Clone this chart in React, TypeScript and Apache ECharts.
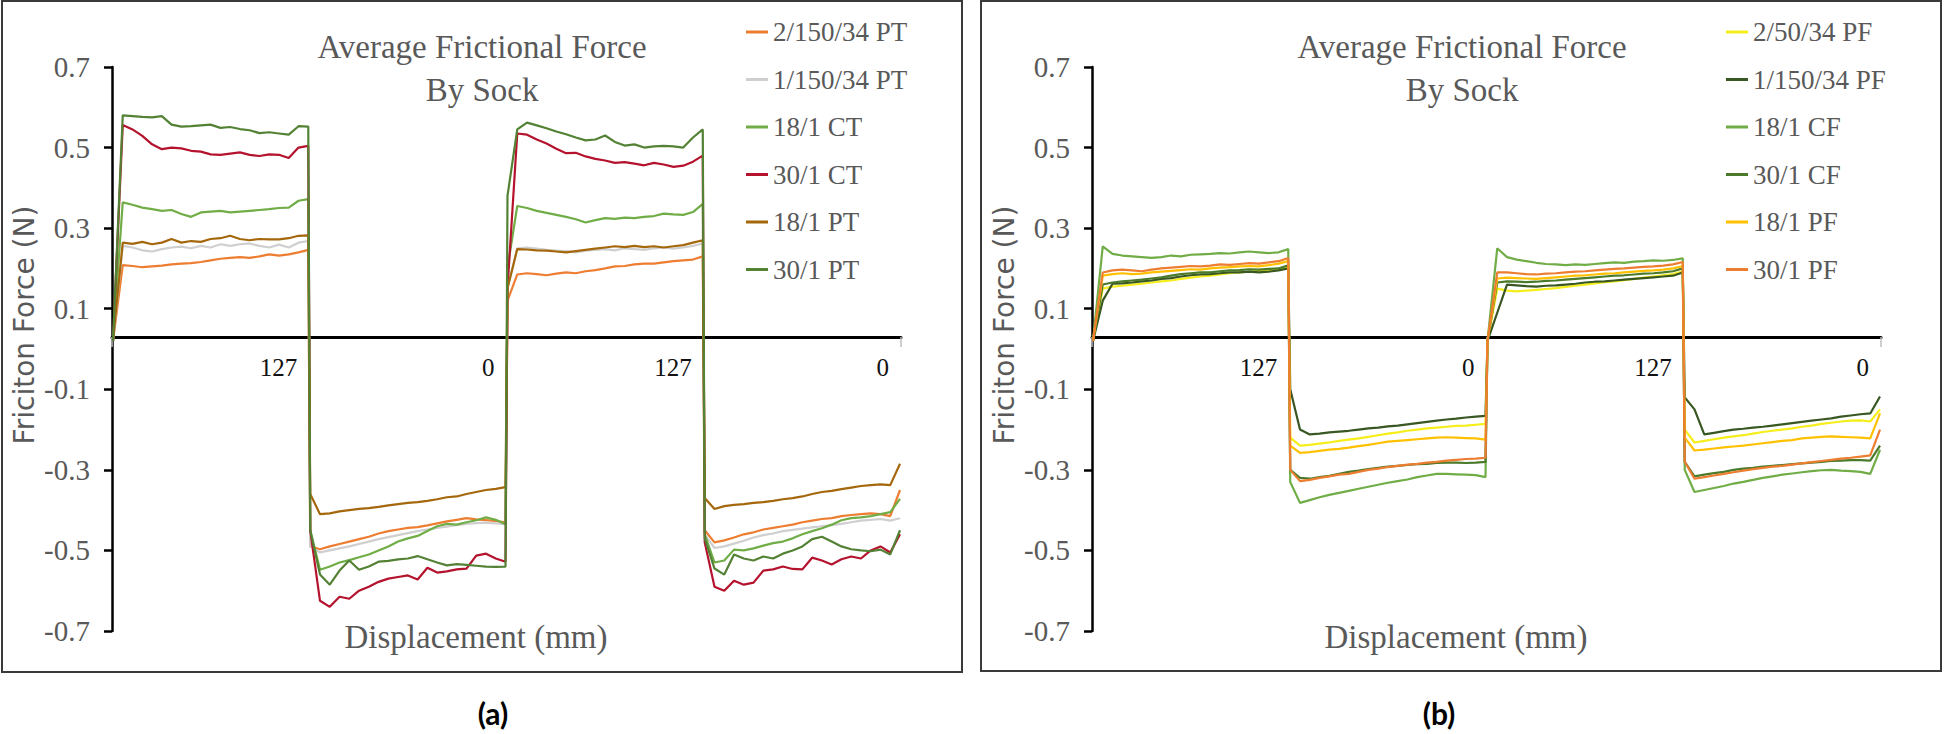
import React, { useEffect, useRef } from "react";
import * as echarts from "echarts";

const SERIF = '"Liberation Serif", "Times New Roman", serif';
const SANS = '"DejaVu Sans", sans-serif';

// Tick labels
const xTickLabels = ["", "127", "0", "127", "0"];
const yTickLabels = ["-0.7", "-0.5", "-0.3", "-0.1", "0.1", "0.3", "0.5", "0.7"];
// value of the force axis where the displacement axis is drawn
const xAxisCrossing = 0.03;

// ---------- Panel (a) : each series = [push 1, pull 1, push 2, pull 2] ----------
const a_2_150_34_PT = [
  [0.02, 0.208, 0.206, 0.203, 0.205, 0.207, 0.21, 0.212, 0.213, 0.216, 0.22, 0.224, 0.226, 0.228, 0.226, 0.23, 0.235, 0.232, 0.235, 0.24, 0.246],
  [-0.49, -0.497, -0.49, -0.484, -0.478, -0.472, -0.466, -0.458, -0.452, -0.448, -0.444, -0.442, -0.438, -0.433, -0.428, -0.424, -0.42, -0.423, -0.425, -0.427, -0.43],
  [0.12, 0.185, 0.188, 0.186, 0.183, 0.187, 0.19, 0.188, 0.193, 0.196, 0.2, 0.205, 0.206, 0.21, 0.212, 0.212, 0.215, 0.218, 0.22, 0.222, 0.23],
  [-0.45, -0.48, -0.475, -0.468, -0.46, -0.455, -0.448, -0.444, -0.44, -0.436, -0.43, -0.426, -0.422, -0.42, -0.415, -0.412, -0.41, -0.408, -0.41, -0.415, -0.35],
];
const a_1_150_34_PT = [
  [0.02, 0.256, 0.252, 0.245, 0.242, 0.248, 0.252, 0.254, 0.25, 0.256, 0.252, 0.26, 0.256, 0.26, 0.262, 0.256, 0.252, 0.259, 0.252, 0.264, 0.268],
  [-0.49, -0.505, -0.5, -0.495, -0.49, -0.484, -0.478, -0.472, -0.467, -0.462, -0.457, -0.452, -0.448, -0.444, -0.441, -0.437, -0.434, -0.432, -0.431, -0.433, -0.435],
  [0.15, 0.25, 0.252, 0.249, 0.246, 0.244, 0.243, 0.24, 0.244, 0.246, 0.248, 0.245, 0.25, 0.248, 0.246, 0.25, 0.252, 0.249, 0.252, 0.256, 0.262],
  [-0.46, -0.494, -0.49, -0.483, -0.476, -0.468, -0.462, -0.458, -0.452, -0.449, -0.446, -0.443, -0.44, -0.437, -0.434, -0.43, -0.426, -0.424, -0.422, -0.426, -0.42],
];
const a_18_1_CT = [
  [0.02, 0.364, 0.358, 0.351, 0.347, 0.343, 0.345, 0.335, 0.328, 0.339, 0.341, 0.343, 0.339, 0.341, 0.343, 0.345, 0.347, 0.35, 0.351, 0.368, 0.372],
  [-0.45, -0.548, -0.54, -0.53, -0.524, -0.517, -0.51, -0.5, -0.49, -0.478, -0.47, -0.464, -0.452, -0.44, -0.434, -0.436, -0.43, -0.425, -0.418, -0.424, -0.435],
  [0.2, 0.355, 0.35, 0.343, 0.338, 0.333, 0.328, 0.322, 0.314, 0.32, 0.325, 0.323, 0.326, 0.325, 0.328, 0.33, 0.336, 0.334, 0.333, 0.34, 0.36],
  [-0.46, -0.53, -0.525, -0.498, -0.5, -0.495, -0.488, -0.482, -0.478, -0.47, -0.46, -0.452, -0.445, -0.436, -0.425, -0.42, -0.418, -0.415, -0.41, -0.405, -0.372],
];
const a_30_1_CT = [
  [0.02, 0.556, 0.545, 0.529, 0.508, 0.496, 0.5, 0.498, 0.492, 0.49, 0.483, 0.482, 0.485, 0.488, 0.482, 0.479, 0.483, 0.482, 0.474, 0.5, 0.504],
  [-0.45, -0.625, -0.64, -0.615, -0.62, -0.6, -0.59, -0.578, -0.57, -0.566, -0.562, -0.572, -0.543, -0.555, -0.552, -0.547, -0.545, -0.513, -0.508, -0.52, -0.528],
  [0.15, 0.535, 0.532, 0.52, 0.51, 0.497, 0.486, 0.487, 0.478, 0.472, 0.468, 0.462, 0.464, 0.46, 0.456, 0.462, 0.458, 0.452, 0.455, 0.465, 0.48],
  [-0.48, -0.59, -0.6, -0.575, -0.585, -0.58, -0.55, -0.547, -0.54, -0.546, -0.547, -0.518, -0.525, -0.535, -0.522, -0.515, -0.52, -0.5, -0.49, -0.505, -0.46],
];
const a_18_1_PT = [
  [0.02, 0.264, 0.261, 0.266, 0.26, 0.264, 0.273, 0.264, 0.268, 0.266, 0.273, 0.275, 0.281, 0.273, 0.27, 0.273, 0.272, 0.272, 0.275, 0.281, 0.282],
  [-0.36, -0.41, -0.408, -0.403, -0.4, -0.397, -0.395, -0.392, -0.388, -0.385, -0.382, -0.38, -0.377, -0.373, -0.368, -0.366, -0.36, -0.355, -0.35, -0.347, -0.343],
  [0.15, 0.248, 0.247, 0.245, 0.244, 0.242, 0.24, 0.243, 0.246, 0.249, 0.252, 0.255, 0.253, 0.256, 0.253, 0.255, 0.252, 0.255, 0.258, 0.264, 0.27],
  [-0.37, -0.397, -0.39, -0.387, -0.385, -0.382, -0.38, -0.377, -0.373, -0.37, -0.366, -0.36, -0.355, -0.352, -0.348, -0.344, -0.34, -0.338, -0.336, -0.338, -0.285],
];
const a_30_1_PT = [
  [0.02, 0.58, 0.578, 0.576, 0.575, 0.578, 0.557, 0.552, 0.553, 0.555, 0.557, 0.549, 0.551, 0.546, 0.543, 0.536, 0.538, 0.535, 0.532, 0.553, 0.552],
  [-0.45, -0.56, -0.585, -0.55, -0.525, -0.548, -0.54, -0.528, -0.526, -0.522, -0.52, -0.514, -0.522, -0.53, -0.537, -0.534, -0.536, -0.538, -0.54, -0.541, -0.54],
  [0.38, 0.545, 0.562, 0.555, 0.548, 0.54, 0.533, 0.525, 0.518, 0.52, 0.53, 0.514, 0.505, 0.508, 0.5, 0.503, 0.504, 0.503, 0.5, 0.525, 0.545],
  [-0.47, -0.545, -0.56, -0.51, -0.52, -0.525, -0.515, -0.52, -0.508, -0.5, -0.49, -0.472, -0.466, -0.478, -0.49, -0.497, -0.5, -0.502, -0.498, -0.51, -0.45],
];

// ---------- Panel (b) ----------
const b_2_50_34_PF = [
  [0.02, 0.15, 0.155, 0.157, 0.16, 0.162, 0.165, 0.168, 0.17, 0.174, 0.177, 0.18, 0.182, 0.185, 0.188, 0.19, 0.192, 0.194, 0.196, 0.198, 0.205],
  [-0.22, -0.24, -0.238, -0.235, -0.232, -0.228, -0.225, -0.222, -0.218, -0.214, -0.21, -0.207, -0.203, -0.2, -0.197, -0.195, -0.193, -0.191, -0.19, -0.188, -0.186],
  [0.02, 0.15, 0.145, 0.143, 0.145, 0.147, 0.149, 0.151, 0.154, 0.157, 0.16, 0.163, 0.166, 0.168, 0.171, 0.174, 0.177, 0.18, 0.183, 0.186, 0.192],
  [-0.2, -0.232, -0.228, -0.224, -0.22, -0.217, -0.214, -0.21, -0.206, -0.203, -0.2, -0.197, -0.193, -0.19, -0.186, -0.183, -0.18, -0.178, -0.177, -0.18, -0.15],
];
const b_1_150_34_PF = [
  [0.02, 0.12, 0.162, 0.163, 0.165, 0.168, 0.17, 0.174, 0.176, 0.18, 0.183, 0.185, 0.186, 0.188, 0.19, 0.19, 0.192, 0.19, 0.192, 0.195, 0.2],
  [-0.1, -0.2, -0.212, -0.21, -0.207, -0.205, -0.203, -0.2, -0.197, -0.195, -0.192, -0.19, -0.187, -0.184, -0.181, -0.178, -0.175, -0.173, -0.17, -0.168, -0.166],
  [0.02, 0.09, 0.16, 0.158, 0.156, 0.155, 0.157, 0.158, 0.16, 0.162, 0.165, 0.167, 0.168, 0.17, 0.172, 0.174, 0.176, 0.178, 0.18, 0.182, 0.19],
  [-0.12, -0.15, -0.212, -0.208, -0.204, -0.2, -0.198, -0.195, -0.193, -0.19, -0.187, -0.184, -0.181, -0.178, -0.175, -0.172, -0.168, -0.165, -0.162, -0.16, -0.118],
];
const b_18_1_CF = [
  [0.02, 0.255, 0.236, 0.232, 0.23, 0.228, 0.226, 0.228, 0.232, 0.23, 0.234, 0.235, 0.236, 0.238, 0.237, 0.24, 0.242, 0.24, 0.238, 0.24, 0.248],
  [-0.33, -0.382, -0.375, -0.368, -0.362, -0.357, -0.352, -0.347, -0.342, -0.337, -0.332, -0.328, -0.324, -0.318, -0.314, -0.31, -0.31, -0.311, -0.312, -0.313, -0.318],
  [0.02, 0.25, 0.228, 0.222, 0.218, 0.214, 0.211, 0.21, 0.208, 0.21, 0.209, 0.211, 0.213, 0.215, 0.214, 0.217, 0.218, 0.22, 0.219, 0.221, 0.225],
  [-0.3, -0.355, -0.35, -0.345, -0.34, -0.334, -0.33, -0.325, -0.32, -0.316, -0.312, -0.309, -0.306, -0.303, -0.301, -0.3, -0.302, -0.303, -0.305, -0.31, -0.25],
];
const b_30_1_CF = [
  [0.02, 0.16, 0.165, 0.168, 0.17, 0.172, 0.175, 0.178, 0.182, 0.186, 0.188, 0.19, 0.19, 0.193, 0.195, 0.196, 0.198, 0.197, 0.199, 0.2, 0.208],
  [-0.3, -0.32, -0.322, -0.318, -0.315, -0.31, -0.305, -0.302, -0.298, -0.295, -0.292, -0.29, -0.288, -0.286, -0.285, -0.283, -0.282, -0.282, -0.283, -0.282, -0.28],
  [0.02, 0.165, 0.168, 0.167, 0.166, 0.167, 0.169, 0.17, 0.172, 0.174, 0.176, 0.178, 0.18, 0.182, 0.183, 0.185, 0.187, 0.188, 0.19, 0.193, 0.2],
  [-0.28, -0.316, -0.312, -0.308, -0.305, -0.3, -0.297, -0.295, -0.292, -0.29, -0.288, -0.286, -0.284, -0.282, -0.28, -0.278, -0.277, -0.276, -0.276, -0.277, -0.24],
];
const b_18_1_PF = [
  [0.02, 0.182, 0.186, 0.188, 0.186, 0.187, 0.19, 0.192, 0.194, 0.196, 0.198, 0.197, 0.2, 0.202, 0.203, 0.205, 0.206, 0.205, 0.208, 0.212, 0.218],
  [-0.24, -0.258, -0.256, -0.253, -0.25, -0.248, -0.245, -0.241, -0.238, -0.234, -0.23, -0.228, -0.226, -0.224, -0.222, -0.22, -0.219, -0.22, -0.221, -0.222, -0.225],
  [0.02, 0.175, 0.177, 0.176, 0.175, 0.174, 0.176, 0.178, 0.18, 0.182, 0.183, 0.185, 0.187, 0.188, 0.19, 0.192, 0.194, 0.195, 0.197, 0.2, 0.206],
  [-0.22, -0.252, -0.25, -0.247, -0.244, -0.242, -0.24, -0.237, -0.234, -0.231, -0.228, -0.226, -0.222, -0.22, -0.218, -0.217, -0.218, -0.219, -0.22, -0.222, -0.16],
];
const b_30_1_PF = [
  [0.02, 0.19, 0.195, 0.197, 0.195, 0.193, 0.197, 0.2, 0.202, 0.204, 0.206, 0.205, 0.207, 0.21, 0.209, 0.211, 0.213, 0.212, 0.215, 0.218, 0.226],
  [-0.3, -0.328, -0.325, -0.32, -0.316, -0.312, -0.31, -0.305, -0.3, -0.297, -0.293, -0.29, -0.287, -0.285, -0.282, -0.28, -0.277, -0.275, -0.273, -0.272, -0.27],
  [0.02, 0.19, 0.19, 0.188, 0.186, 0.185, 0.187, 0.188, 0.19, 0.192, 0.193, 0.195, 0.197, 0.199, 0.2, 0.202, 0.204, 0.205, 0.207, 0.21, 0.216],
  [-0.28, -0.322, -0.318, -0.314, -0.31, -0.306, -0.302, -0.298, -0.295, -0.292, -0.29, -0.287, -0.284, -0.281, -0.278, -0.275, -0.272, -0.27, -0.267, -0.264, -0.2],
];

const seriesA = [
  { name: "2/150/34 PT", color: "#ED7D31", segs: a_2_150_34_PT },
  { name: "1/150/34 PT", color: "#CFCFCF", segs: a_1_150_34_PT },
  { name: "18/1 CT", color: "#70AD47", segs: a_18_1_CT },
  { name: "30/1 CT", color: "#B4122D", segs: a_30_1_CT },
  { name: "18/1 PT", color: "#A4670C", segs: a_18_1_PT },
  { name: "30/1 PT", color: "#548235", segs: a_30_1_PT },
];
const seriesB = [
  { name: "2/50/34 PF", color: "#F5EE1A", segs: b_2_50_34_PF },
  { name: "1/150/34 PF", color: "#385723", segs: b_1_150_34_PF },
  { name: "18/1 CF", color: "#70AD47", segs: b_18_1_CF },
  { name: "30/1 CF", color: "#4A7A2A", segs: b_30_1_CF },
  { name: "18/1 PF", color: "#FFC000", segs: b_18_1_PF },
  { name: "30/1 PF", color: "#ED7D31", segs: b_30_1_PF },
];

const GRID_TOP = 67;
const GRID_H = 564;
const Y_MIN = -0.7;
const Y_MAX = 0.7;

function toPoints(segs: number[][]) {
  const out: number[][] = [];
  segs.forEach((seg, k) => {
    seg.forEach((v, i) => {
      out.push([k + 0.005 + (i * 0.99) / (seg.length - 1), v]);
    });
  });
  return out;
}

function buildPanel(p: number, off: number, defs: typeof seriesA) {
  const grid = { left: 112 + off, top: GRID_TOP, width: 789, height: GRID_H };
  // shift the bottom x axis up to the crossing value of the force axis
  const crossOffset = -((xAxisCrossing - Y_MIN) / (Y_MAX - Y_MIN)) * GRID_H;
  const xAxis = {
    type: "value",
    gridIndex: p,
    position: "bottom",
    offset: crossOffset,
    min: 0,
    max: 4,
    interval: 1,
    axisLine: { show: true, onZero: false, lineStyle: { color: "#000", width: 3 } },
    axisTick: { show: true, length: 10, lineStyle: { color: "#BFBFBF", width: 1.5 } },
    axisLabel: {
      formatter: (v: number) => xTickLabels[Math.round(v)] ?? "",
      align: "right",
      padding: [0, 12, 0, 0],
      margin: 18,
      fontSize: 25,
      fontFamily: SERIF,
      color: "#111",
    },
    splitLine: { show: false },
  };
  const yAxes = [
    { type: "value", gridIndex: p, position: "left", min: Y_MIN, max: Y_MAX, show: false, splitLine: { show: false } },
    {
      type: "value",
      gridIndex: p,
      position: "left",
      min: 0,
      max: 7,
      interval: 1,
      axisLine: { show: true, onZero: false, lineStyle: { color: "#000", width: 2.5 } },
      axisTick: { show: true, length: 8, lineStyle: { color: "#000", width: 2.5 } },
      axisLabel: {
        formatter: (v: number) => yTickLabels[Math.round(v)] ?? "",
        margin: 22,
        fontSize: 29,
        fontFamily: SERIF,
        color: "#595959",
      },
      splitLine: { show: false },
    },
  ];
  const series = defs.map((d) => ({
    type: "line",
    name: d.name,
    xAxisIndex: p,
    yAxisIndex: p * 2,
    data: toPoints(d.segs),
    showSymbol: false,
    symbol: "none",
    color: d.color,
    lineStyle: { width: 2.2, color: d.color },
    itemStyle: { color: d.color },
  }));
  const legend = {
    data: defs.map((d) => d.name),
    orient: "vertical",
    left: 741 + off,
    top: 12,
    itemGap: 17.5,
    itemWidth: 22,
    itemHeight: 3,
    icon: "rect",
    selectedMode: false,
    textStyle: { fontFamily: SERIF, fontSize: 27, color: "#595959", lineHeight: 30 },
  };
  const graphics = [
    { type: "text", x: 482 + off, y: 47, style: { text: "Average Frictional Force", fill: "#595959", font: `33px ${SERIF}`, align: "center", verticalAlign: "middle" } },
    { type: "text", x: 482 + off, y: 90, style: { text: "By Sock", fill: "#595959", font: `33px ${SERIF}`, align: "center", verticalAlign: "middle" } },
    { type: "text", x: 476 + off, y: 637, style: { text: "Displacement (mm)", fill: "#595959", font: `33px ${SERIF}`, align: "center", verticalAlign: "middle" } },
    { type: "text", x: 24 + off, y: 325, rotation: Math.PI / 2, style: { text: "Friciton Force (N)", fill: "#595959", font: `28px ${SANS}`, align: "center", verticalAlign: "middle" } },
  ];
  return { grid, xAxis, yAxes, series, legend, graphics };
}

export default function App() {
  const ref = useRef<HTMLDivElement>(null);
  useEffect(() => {
    if (!ref.current) return;
    const chart = echarts.init(ref.current, null, { renderer: "svg", width: 1944, height: 734 });
    const A = buildPanel(0, 0, seriesA);
    const B = buildPanel(1, 980, seriesB);
    chart.setOption({
      animation: false,
      backgroundColor: "#fff",
      grid: [A.grid, B.grid],
      xAxis: [A.xAxis, B.xAxis],
      yAxis: [...A.yAxes, ...B.yAxes],
      legend: [A.legend, B.legend],
      series: [...A.series, ...B.series],
      graphic: [
        { type: "rect", shape: { x: 2, y: 1, width: 960, height: 671 }, style: { fill: "none", stroke: "#3a3a3a", lineWidth: 2 } },
        { type: "rect", shape: { x: 981, y: 1, width: 960, height: 670 }, style: { fill: "none", stroke: "#3a3a3a", lineWidth: 2 } },
        ...A.graphics,
        ...B.graphics,
        { type: "text", x: 493, y: 713, style: { text: "(a)", fill: "#000", font: `bold 30px Lato, "Open Sans", sans-serif`, align: "center", verticalAlign: "middle" } },
        { type: "text", x: 1439, y: 713, style: { text: "(b)", fill: "#000", font: `bold 30px Lato, "Open Sans", sans-serif`, align: "center", verticalAlign: "middle" } },
      ],
    });
    return () => chart.dispose();
  }, []);
  return (
    <div
      ref={ref}
      style={{ position: "absolute", left: 0, top: 0, width: 1944, height: 734, background: "#fff" }}
    />
  );
}
